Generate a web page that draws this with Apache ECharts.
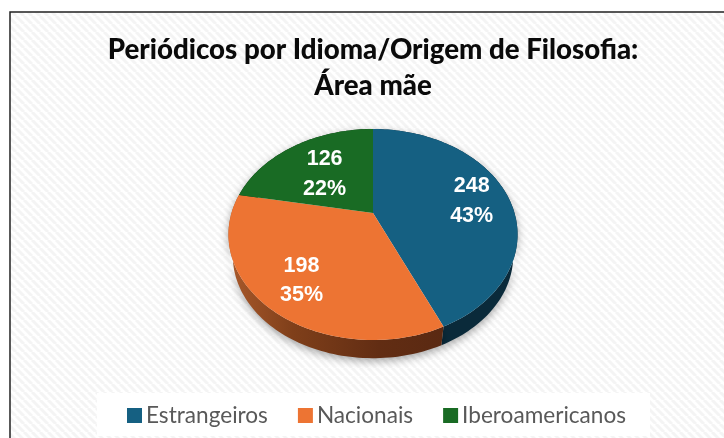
<!DOCTYPE html>
<html>
<head>
<meta charset="utf-8">
<style>html,body{margin:0;padding:0;background:#fff}#c{width:724px;height:438px}</style>
<script src="https://cdn.jsdelivr.net/npm/echarts@6/dist/echarts.min.js"></script>
</head>
<body>
<div id="c"></div>
<script>
const categories = ['Estrangeiros', 'Nacionais', 'Iberoamericanos'];
const values = [248, 198, 126];
const titleText = 'Periódicos por Idioma/Origem de Filosofia:\nÁrea mãe';

const topColors = ['#156082', '#ED7433', '#196B24'];
const sideColors = [
  '#0A2A3A',
  {type:'linear',x:0,y:0,x2:1,y2:0,colorStops:[{offset:0,color:'#A9592B'},{offset:.3,color:'#7F3F1A'},{offset:.7,color:'#622D13'},{offset:1,color:'#5A2912'}]},
  '#0C3512'
];
const labelRadius = [0.735, 0.72, 0.585];
const total = values.reduce((a, b) => a + b, 0);

// perspective-tilted disc
const apexX = 373, apexY = 213, rX = 141.5, rY = 101.1, persp = -0.204, depth = 22, shrink = 0.97;
function project(theta, f, dy, s) {
  const u = Math.sin(theta) * f, v = -Math.cos(theta) * f, w = 1 + persp * v;
  return [apexX + rX * s * u / w, apexY + dy + rY * s * v / w];
}
function arc(a0, a1, dy, s) {
  const n = Math.max(4, Math.ceil((a1 - a0) * 40)), pts = [];
  for (let i = 0; i <= n; i++) pts.push(project(a0 + (a1 - a0) * i / n, 1, dy, s));
  return pts;
}

const hatch = document.createElement('canvas');
hatch.width = hatch.height = 8;
const g = hatch.getContext('2d');
g.fillStyle = '#fff'; g.fillRect(0, 0, 8, 8);
g.strokeStyle = '#f4f4f4'; g.lineWidth = 3;
[-8, 0, 8].forEach(o => { g.beginPath(); g.moveTo(o, 0); g.lineTo(o + 8, 8); g.stroke(); });

function makeSeries(i) {
  const before = values.slice(0, i).reduce((a, b) => a + b, 0);
  const a0 = before / total * 2 * Math.PI;
  const a1 = (before + values[i]) / total * 2 * Math.PI;
  const mid = (a0 + a1) / 2;
  const lab = project(mid, labelRadius[i], 3, 1);
  return {
    type: 'custom',
    name: categories[i],
    coordinateSystem: 'none',
    itemStyle: { color: topColors[i] },
    data: [{ name: categories[i], value: values[i] }],
    animation: false,
    silent: true,
    renderItem: function () {
      const topArc = arc(a0, a1, 0, 1);
      const botArc = arc(a0, a1, depth, shrink).reverse();
      return {
        type: 'group',
        children: [
          { type: 'polygon', z2: 1, shape: { points: topArc.concat(botArc) },
            style: { fill: sideColors[i], shadowBlur: 9, shadowColor: 'rgba(0,0,0,0.35)', shadowOffsetY: 3 } },
          { type: 'polygon', z2: 2, shape: { points: [[apexX, apexY]].concat(topArc) },
            style: { fill: topColors[i] } },
          { type: 'text', z2: 3, x: lab[0], y: lab[1],
            style: { text: values[i] + '\n' + Math.round(values[i] / total * 100) + '%',
              fill: '#fff', font: 'bold 21.5px "Liberation Sans"', lineHeight: 29.5,
              align: 'center', verticalAlign: 'middle' } }
        ]
      };
    }
  };
}

const chart = echarts.init(document.getElementById('c'), null, { renderer: 'canvas' });
chart.setOption({
  animation: false,
  backgroundColor: '#fff',
  graphic: [{
    type: 'rect', z: -10, silent: true,
    shape: { x: 10, y: 12, width: 740, height: 450 },
    style: { fill: { image: hatch, repeat: 'repeat' }, stroke: '#222', lineWidth: 1.5 }
  }],
  title: {
    text: titleText, left: 368, top: 27, textAlign: 'center',
    textStyle: { fontFamily: 'Lato', fontWeight: 900, fontSize: 27.7, lineHeight: 36, color: '#0a0a0a' }
  },
  legend: {
    data: categories, left: 97, top: 393, icon: 'rect', itemWidth: 15, itemHeight: 15, itemGap: 30,
    padding: [11, 24, 9, 30], backgroundColor: 'rgba(255,255,255,0.92)',
    textStyle: { fontFamily: 'Lato', fontSize: 22.6, color: '#595959', padding: [0, 0, 0, -1] },
    selectedMode: false
  },
  series: categories.map((c, i) => makeSeries(i))
});
</script>
</body>
</html>
